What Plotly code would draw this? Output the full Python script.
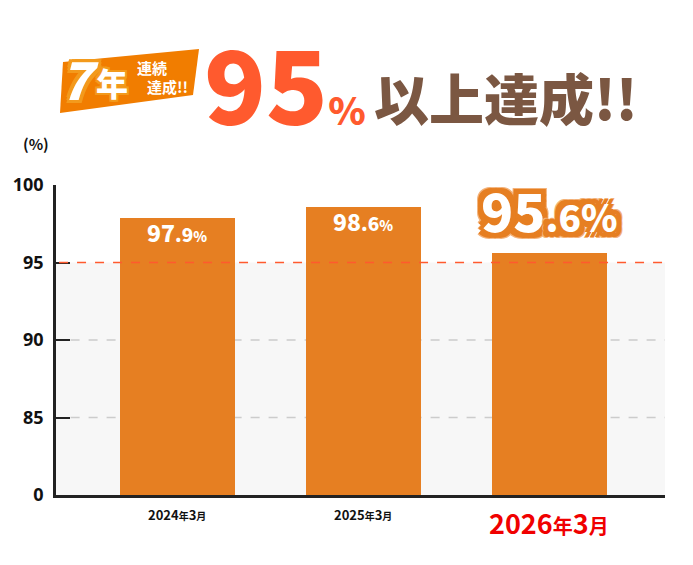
import plotly.graph_objects as go

# chart data
categories = ["2024年3月", "2025年3月", "2026年3月"]
rates = [97.9, 98.6, 95.6]
y_ticks = [80, 85, 90, 95, 100]
y_tick_labels = ["0", "85", "90", "95", "100"]
grid_levels = [85, 90]
target = 95

BAR = "#e67f22"
RED = "#ff5a2e"
BROWN = "#7b5742"
JP = "Noto Sans CJK JP"

# plot area in page pixels: x 56..665, y 185..495 (page has an 8px body margin)
def px(x):
    return (x - 56) / 609

def py(y):
    return (495 - y) / 310

def outline(color, w):
    pts = [(w, 0), (-w, 0), (0, w), (0, -w), (w, w), (-w, -w), (w, -w), (-w, w)]
    return ", ".join(f"{a}px {b}px 0 {color}" for a, b in pts)

def cat_label(c, big):
    year, month = c.split("年")
    if big:
        return (f"{year}<span style='font-size:20px'>年</span>"
                f"{month[:-1]}<span style='font-size:20px'>月</span>")
    return (f"{year}<span style='font-size:10px'>年</span>"
            f"{month[:-1]}<span style='font-size:10px'>月</span>")

fig = go.Figure()
fig.add_trace(go.Bar(
    x=categories,
    y=[r - y_ticks[0] for r in rates],
    base=y_ticks[0],
    width=0.62,
    marker=dict(color=BAR, line=dict(width=0)),
    hoverinfo="skip",
))

shapes = [
    dict(type="rect", xref="paper", yref="y", x0=0, x1=1, y0=y_ticks[0], y1=target,
         fillcolor="#f7f7f7", line=dict(width=0), layer="below"),
]
for g in grid_levels:
    shapes.append(dict(type="line", xref="paper", yref="y", x0=0.024, x1=1, y0=g, y1=g,
                       line=dict(color="#cccccc", width=1.5, dash="dash"), layer="below"))
shapes.append(dict(type="line", xref="paper", yref="y", x0=0.005, x1=1, y0=target, y1=target,
                   line=dict(color=RED, width=1.5, dash="dash"), layer="above"))
# badge
bx = [(63, 62), (199, 49), (193, 95), (60, 113)]
path = "M " + " L ".join(f"{px(a)},{py(b)}" for a, b in bx) + " Z"
shapes.append(dict(type="path", xref="paper", yref="paper", path=path,
                   fillcolor="#f17d00", line=dict(width=0)))

annotations = []
# value labels
for i, (c, r) in enumerate(zip(categories, rates)):
    whole, frac = f"{r:.1f}".split(".")
    if i < len(categories) - 1:
        annotations.append(dict(
            x=c, y=r, xref="x", yref="y", yanchor="top", yshift=5, showarrow=False,
            text=f"{whole}<span style='font-size:19px'>.{frac}</span><span style='font-size:14px'>%</span>",
            font=dict(family=JP, size=23, color="white", weight=900),
        ))
    else:
        annotations.append(dict(
            x=c, y=r, xref="x", yref="y", yanchor="bottom", yshift=4, showarrow=False,
            text=f"{whole}<span style='font-size:37px'>.{frac}%</span>",
            font=dict(family=JP, size=53, color="white", weight=900,
                      shadow=outline(BAR, 5) + ", " + outline("#f3b27a", 6)),
        ))
# category labels
for i, c in enumerate(categories):
    big = i == len(categories) - 1
    annotations.append(dict(
        x=c, y=0, xref="x", yref="paper", yanchor="middle", showarrow=False,
        yshift=-27 if big else -19,
        text=cat_label(c, big),
        font=dict(family=JP, size=27 if big else 13, color="#f00000" if big else "#111", weight="bold"),
    ))

# heading
head = [
    dict(x=px(36), y=py(143), text="(%)", font=dict(family=JP, size=15, color="#111", weight="bold")),
    dict(x=px(285), y=py(80), text="95<span style='font-size:38px'>%</span>", height=124,
         font=dict(family=JP, size=102, color=RED, weight=900)),
    dict(x=px(506), y=py(96), text="以上達成!!", font=dict(family=JP, size=55, color=BROWN, weight=900)),
    dict(x=px(79), y=py(78), text="<i>7</i>",
         font=dict(family=JP, size=52, color="white", weight=900, shadow=outline("#f39a1c", 3) + ", 2px 3px 0 #c45a00")),
    dict(x=px(112), y=py(82), text="年",
         font=dict(family=JP, size=32, color="white", weight=900, shadow=outline("#f39a1c", 2))),
    dict(x=px(152), y=py(67), text="連続", font=dict(family=JP, size=15, color="white", weight="bold")),
    dict(x=px(167), y=py(87), text="達成!!", font=dict(family=JP, size=15, color="white", weight="bold")),
]
for a in head:
    a.update(xref="paper", yref="paper", showarrow=False, xanchor="center", yanchor="middle")
annotations += head

fig.update_layout(
    width=685, height=557,
    margin=dict(l=48, r=28, t=177, b=70, autoexpand=False),
    paper_bgcolor="white", plot_bgcolor="white",
    showlegend=False,
    bargap=0,
    shapes=shapes,
    annotations=annotations,
    xaxis=dict(
        range=[-0.653, 2.621],
        showticklabels=False, automargin=False,
        showline=True, linecolor="#222", linewidth=2.5,
        ticks="", showgrid=False, fixedrange=True,
    ),
    yaxis=dict(
        range=[y_ticks[0], y_ticks[-1]],
        tickvals=y_ticks, ticktext=y_tick_labels,
        tickfont=dict(family="Noto Sans", size=18, color="#111", weight="bold"),
        showline=True, linecolor="#222", linewidth=2.5,
        ticks="inside", ticklen=14, tickwidth=2, tickcolor="#222",
        ticklabelstandoff=6, automargin=False,
        showgrid=False, zeroline=False, fixedrange=True,
    ),
)

fig.write_html("out.html")
